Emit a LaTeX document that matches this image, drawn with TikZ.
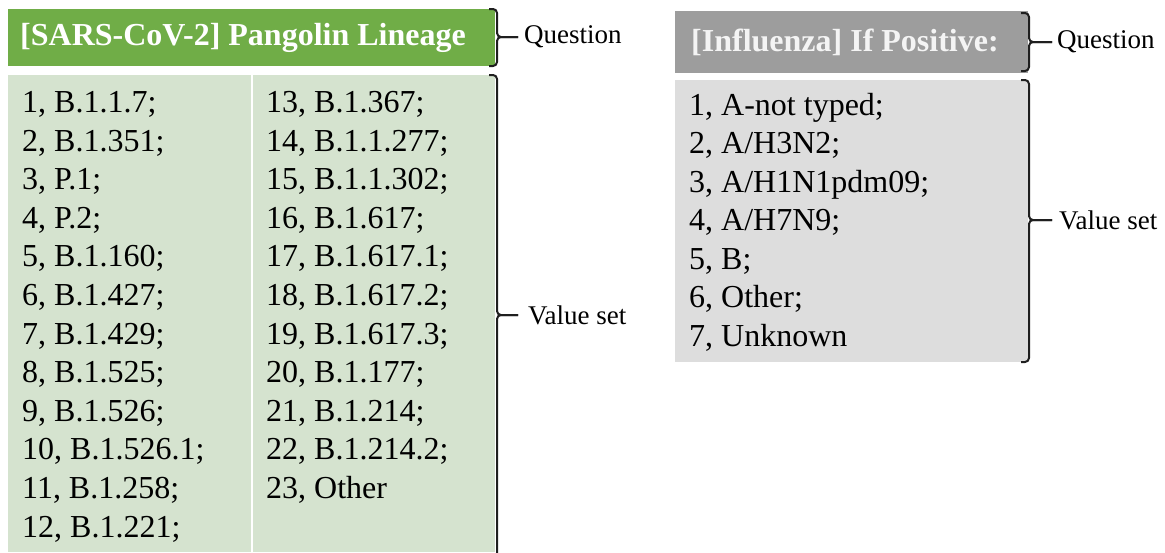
\documentclass[tikz,border=0pt]{standalone}
\usepackage{fontspec}
\setmainfont{Liberation Serif}
\definecolor{greenhdr}{HTML}{70AD47}
\definecolor{greenbody}{HTML}{D5E3CF}
\definecolor{grayhdr}{HTML}{9D9D9D}
\definecolor{graybody}{HTML}{DDDDDD}
\definecolor{hdrtext}{HTML}{F4F4F4}
\begin{document}
\begin{tikzpicture}[x=1pt,y=-1pt,
  hdrbox/.style={inner ysep=0pt, align=flush left, anchor=west, font=\bfseries\fontsize{32}{32}\selectfont},
  bodybox/.style={inner sep=0pt, anchor=north west},
  item/.style={inner sep=0pt, anchor=base west, font=\fontsize{32}{32}\selectfont},
  lbl/.style={inner sep=0pt, anchor=west, font=\fontsize{27}{27}\selectfont},
  brace/.style={line width=2pt, rounded corners=4pt, black!88}]
\useasboundingbox (0,0) rectangle (1165,552);

% ---------- left block ----------
\node[hdrbox, fill=greenhdr, text=white, inner xsep=12pt, text width=463pt, minimum height=57pt] (q1) at (8,37.5) {[SARS-CoV-2] Pangolin Lineage};
\node[bodybox, fill=greenbody, minimum width=487pt, minimum height=477pt] (v1) at (8,75) {};
\draw[white, line width=2pt] (251.5,75) -- (251.5,552);
\foreach \t [count=\i] in {{1, B.1.1.7;},{2, B.1.351;},{3, P.1;},{4, P.2;},{5, B.1.160;},{6, B.1.427;},{7, B.1.429;},{8, B.1.525;},{9, B.1.526;},{10, B.1.526.1;},{11, B.1.258;},{12, B.1.221;}}
  \node[item] (l\i) at (22,{112.5+38.6*(\i-1)}) {\t};
\foreach \t [count=\i] in {{13, B.1.367;},{14, B.1.1.277;},{15, B.1.1.302;},{16, B.1.617;},{17, B.1.617.1;},{18, B.1.617.2;},{19, B.1.617.3;},{20, B.1.177;},{21, B.1.214;},{22, B.1.214.2;},{23, Other}}
  \node[item] (r\i) at (266,{112.5+38.6*(\i-1)}) {\t};

\node[lbl] (lq1) at (524,37) {Question};
\node[lbl] (lv1) at (528,315) {Value set};
\draw[brace] (489,9) -- (497,9) -- (497,37) -- ([xshift=-6pt]lq1.west);
\draw[brace] (489,66) -- (497,66) -- (497,37) -- ([xshift=-6pt]lq1.west);
\draw[brace] (489,75) -- (497,75) -- (497,315) -- ([xshift=-10pt]lv1.west);
\draw[brace] (497,560) -- (497,315) -- ([xshift=-10pt]lv1.west);

% ---------- right block ----------
\node[hdrbox, fill=grayhdr, text=hdrtext, inner xsep=16pt, text width=321pt, minimum height=62pt] (q2) at (675,42) {[Influenza] If Positive:};
\node[bodybox, fill=graybody, minimum width=353pt, minimum height=282pt] (v2) at (675,80) {};
\foreach \t [count=\i] in {{1, A-not typed;},{2, A/H3N2;},{3, A/H1N1pdm09;},{4, A/H7N9;},{5, B;},{6, Other;},{7, Unknown}}
  \node[item] (g\i) at (689,{115+38.5*(\i-1)}) {\t};

\node[lbl] (lq2) at (1057,42) {Question};
\node[lbl] (lv2) at (1059,220) {Value set};
\draw[brace] (1021,13) -- (1029,13) -- (1029,42) -- ([xshift=-5pt]lq2.west);
\draw[brace] (1021,71) -- (1029,71) -- (1029,42) -- ([xshift=-5pt]lq2.west);
\draw[brace] (1021,80) -- (1029,80) -- (1029,220) -- ([xshift=-7pt]lv2.west);
\draw[brace] (1021,362) -- (1029,362) -- (1029,220) -- ([xshift=-7pt]lv2.west);
\end{tikzpicture}
\end{document}
